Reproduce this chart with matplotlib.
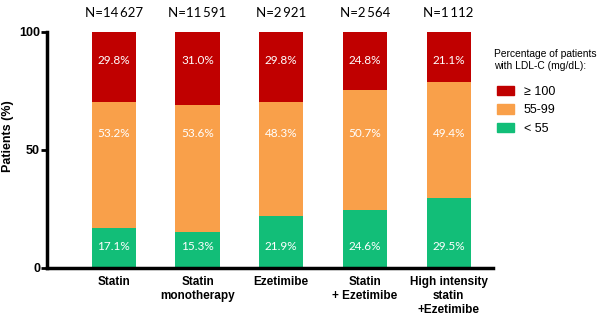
import matplotlib.pyplot as plt
from matplotlib.patches import Patch
import numpy as np

categories = ["Statin", "Statin\nmonotherapy", "Ezetimibe", "Statin\n+ Ezetimibe", "High intensity\nstatin\n+Ezetimibe"]
n_labels = ["N=14\u2009627", "N=11\u2009591", "N=2\u2009921", "N=2\u2009564", "N=1\u2009112"]
low = [17.1, 15.3, 21.9, 24.6, 29.5]
mid = [53.2, 53.6, 48.3, 50.7, 49.4]
high = [29.8, 31.0, 29.8, 24.8, 21.1]
legend_labels = ["\u2265 100", "55-99", "< 55"]

c_high = "#C00000"
c_mid = "#F9A04A"
c_low = "#12BE78"

plt.rcParams["font.family"] = ["Liberation Sans", "DejaVu Sans"]

fig = plt.figure(figsize=(6.02, 3.17), dpi=100)
ax = fig.add_axes([0.078, 0.1546, 0.741, 0.745])

x = np.arange(len(categories))
w = 0.53
low_a = np.array(low)
mid_a = np.array(mid)
high_a = np.array(high)
ax.bar(x, low_a, w, color=c_low)
ax.bar(x, mid_a, w, bottom=low_a, color=c_mid)
ax.bar(x, high_a, w, bottom=low_a + mid_a, color=c_high)

for i in range(len(x)):
    for val, yy in [(high[i], 88), (mid[i], 57), (low[i], 9)]:
        ax.text(x[i], yy, f"{val:.1f}%", ha="center", va="center", color="white",
                fontsize=8.5, family=["Lato", "DejaVu Sans"])
    ax.text(x[i], 108, n_labels[i], ha="center", va="center", fontsize=9.5,
            family=["Lato", "DejaVu Sans"], clip_on=False)

ax.set_xlim(-0.8, 4.53)
ax.set_ylim(0, 100)
ax.set_yticks([0, 50, 100])
ax.set_xticks(x)
ax.set_xticklabels(categories, fontweight="bold", fontsize=8.5, linespacing=1.2)
ax.tick_params(axis="x", length=0, pad=6)
ax.tick_params(axis="y", length=4, width=2, direction="out", labelsize=9, pad=1)
for lab in ax.get_yticklabels():
    lab.set_fontweight("bold")
ax.set_ylabel("Patients (%)", fontweight="bold", fontsize=9)
ax.yaxis.set_label_coords(-0.074, 0.56)

for s in ["top", "right"]:
    ax.spines[s].set_visible(False)
ax.spines["left"].set_linewidth(2.5)
ax.spines["bottom"].set_linewidth(2.5)

handles = [Patch(color=c_high), Patch(color=c_mid), Patch(color=c_low)]
fig.text(0.821, 0.81, "Percentage of patients\nwith LDL-C (mg/dL):", fontsize=7.4,
         va="center", ha="left", linespacing=1.3)
leg = fig.legend(handles, legend_labels, loc="upper left", bbox_to_anchor=(0.818, 0.745),
                 frameon=False, fontsize=9, handlelength=1.3, handleheight=0.8,
                 labelspacing=0.5, handletextpad=0.8, borderaxespad=0)

fig.savefig("out.png", dpi=100)
